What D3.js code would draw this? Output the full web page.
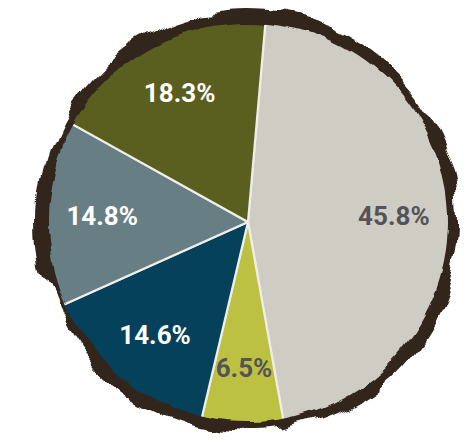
<!DOCTYPE html>
<html>
<head>
<meta charset="utf-8">
<script src="https://cdn.jsdelivr.net/npm/d3@7/dist/d3.min.js"></script>
<style>
  body { margin: 0; background: #fff; }
  svg { display: block; }
</style>
</head>
<body>
<svg class="chart"></svg>
<script>
// slices, clockwise from the top
var categories = ["A", "B", "C", "D", "E"];
var values = [45.8, 6.5, 14.6, 14.8, 18.3];
var labels = ["45.8%", "6.5%", "14.6%", "14.8%", "18.3%"];
var colors = ["#cfccc4", "#bdc142", "#05415a", "#677e85", "#5a5e1e"];
var labelColors = ["#545358", "#545358", "#ffffff", "#ffffff", "#ffffff"];

var width = 464,
    height = 442,
    cx = 248,
    cy = 222;

var svg = d3.select(".chart")
    .attr("width", width)
    .attr("height", height);

var defs = svg.append("defs");

// rough edge filters
function roughFilter(id, freq, octaves, seed, scale) {
  var f = defs.append("filter")
      .attr("id", id)
      .attr("filterUnits", "userSpaceOnUse")
      .attr("x", 0).attr("y", 0)
      .attr("width", width).attr("height", height);
  f.append("feTurbulence")
      .attr("type", "fractalNoise")
      .attr("baseFrequency", freq)
      .attr("numOctaves", octaves)
      .attr("seed", seed)
      .attr("result", "noise");
  f.append("feDisplacementMap")
      .attr("in", "SourceGraphic")
      .attr("in2", "noise")
      .attr("scale", scale)
      .attr("xChannelSelector", "R")
      .attr("yChannelSelector", "G");
}
roughFilter("roughOuter", 0.018, 3, 7, 26);
roughFilter("roughInner", 0.03, 2, 3, 10);

defs.append("mask")
    .attr("id", "pieMask")
    .attr("maskUnits", "userSpaceOnUse")
    .attr("x", 0).attr("y", 0)
    .attr("width", width).attr("height", height)
  .append("circle")
    .attr("cx", cx)
    .attr("cy", cy)
    .attr("r", 200)
    .attr("fill", "#fff")
    .attr("filter", "url(#roughInner)");

// brown border
svg.append("circle")
    .attr("cx", cx)
    .attr("cy", cy)
    .attr("r", 211)
    .attr("fill", "#31261a")
    .attr("filter", "url(#roughOuter)");

var pie = d3.pie()
    .sort(null)
    .startAngle(5 * Math.PI / 180)
    .endAngle(5 * Math.PI / 180 + 2 * Math.PI)
    .value(function(d) { return d; });

var arc = d3.arc().innerRadius(0).outerRadius(215);
var labelArc = d3.arc().innerRadius(146).outerRadius(146);

var g = svg.append("g")
    .attr("transform", "translate(" + cx + "," + cy + ")");

g.append("g")
    .attr("mask", "url(#pieMask)")
    .attr("transform", "translate(" + (-cx) + "," + (-cy) + ")")
  .append("g")
    .attr("transform", "translate(" + cx + "," + cy + ")")
  .selectAll("path")
    .data(pie(values))
    .enter().append("path")
    .attr("d", arc)
    .attr("fill", function(d, i) { return colors[i]; })
    .attr("stroke", "#eeede8")
    .attr("stroke-width", 2.2)
    .attr("stroke-linejoin", "round");

g.selectAll("text")
    .data(pie(values))
    .enter().append("text")
    .attr("transform", function(d) { return "translate(" + labelArc.centroid(d) + ")"; })
    .attr("text-anchor", "middle")
    .attr("dy", "0.36em")
    .style("font-family", "Roboto, 'Liberation Sans', sans-serif")
    .style("font-weight", "bold")
    .style("font-size", "26px")
    .attr("fill", function(d, i) { return labelColors[i]; })
    .text(function(d, i) { return labels[i]; });
</script>
</body>
</html>
